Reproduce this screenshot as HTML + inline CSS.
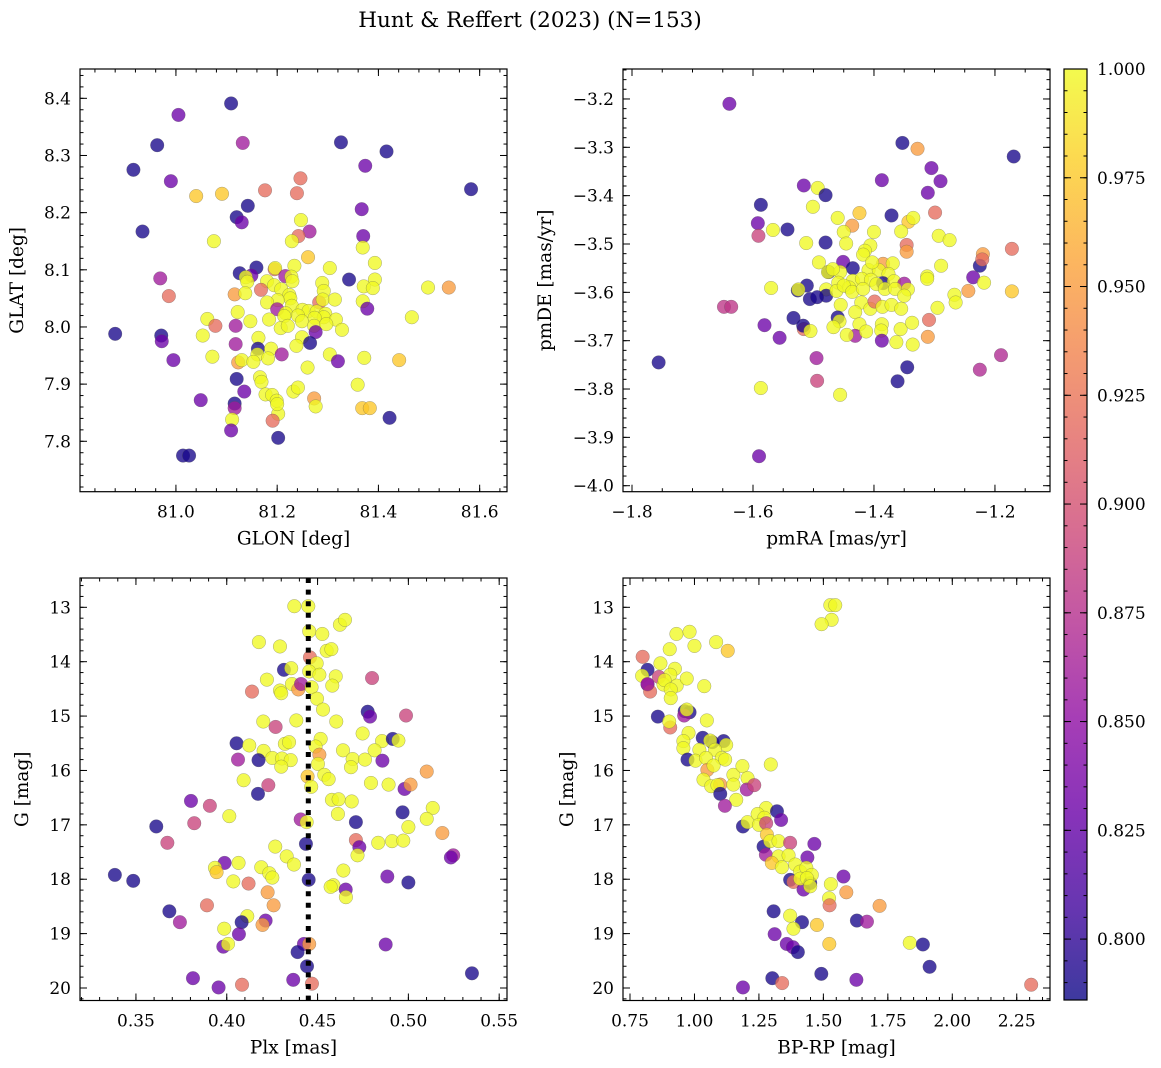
<!DOCTYPE html>
<html><head><meta charset="utf-8"><title>Hunt &amp; Reffert (2023)</title>
<style>
html,body{margin:0;padding:0;background:#fff;}
svg{display:block;font-family:"DejaVu Serif","Liberation Serif",serif;}
</style></head>
<body>
<svg id="fig" width="1161" height="1068" viewBox="0 0 1161 1068" xmlns="http://www.w3.org/2000/svg">
<defs>
<linearGradient id="plasma" x1="0" y1="1" x2="0" y2="0">
<stop offset="0" stop-color="#0d0887"/><stop offset="0.1" stop-color="#41049d"/><stop offset="0.2" stop-color="#6a00a8"/><stop offset="0.3" stop-color="#8f0da4"/><stop offset="0.4" stop-color="#b12a90"/><stop offset="0.5" stop-color="#cc4778"/><stop offset="0.6" stop-color="#e16462"/><stop offset="0.7" stop-color="#f2844b"/><stop offset="0.8" stop-color="#fca636"/><stop offset="0.9" stop-color="#fcce25"/><stop offset="1" stop-color="#f0f921"/>
</linearGradient>
</defs>
<text x="530" y="27" text-anchor="middle" font-size="21.5">Hunt &amp; Reffert (2023) (N=153)</text>
</svg>
<script>
// ---------- Panel 1: GLON vs GLAT ----------
const p1Glon = [81.109,81.005,81.132,80.963,81.326,81.416,80.916,81.374,80.990,81.246,
81.040,81.091,81.176,81.239,81.583,81.142,81.367,81.120,81.130,81.247,
80.934,81.264,81.370,81.242,81.075,81.229,81.369,81.261,81.393,81.159,
81.234,81.304,81.195,81.196,81.126,81.149,81.138,81.216,81.228,80.969,
81.342,81.393,81.141,81.180,81.230,81.289,81.194,81.371,81.389,81.498,
81.539,81.168,81.208,81.292,80.986,81.116,81.137,81.224,81.226,81.201,
81.283,81.290,81.314,81.180,81.369,81.378,81.229,81.200,81.250,81.262,
81.278,81.122,81.217,81.295,81.241,81.214,81.292,81.316,81.466,81.062,
81.184,81.147,81.249,81.274,81.078,81.118,81.207,81.221,81.273,81.297,
81.328,81.276,80.880,80.971,80.972,81.053,81.163,81.249,81.265,81.118,
81.162,81.238,81.188,81.209,81.161,81.072,81.304,81.372,80.995,81.123,
81.130,81.153,81.182,81.320,81.441,81.260,81.120,81.166,81.169,81.359,
81.135,81.232,81.241,81.177,81.190,81.199,81.273,81.276,81.049,81.116,
81.116,81.368,81.383,81.422,81.111,81.202,81.191,81.109,81.202,81.014,
81.026,81.200];
const p1Glat = [8.391,8.371,8.322,8.318,8.323,8.307,8.275,8.282,8.255,8.260,
8.229,8.233,8.239,8.234,8.241,8.212,8.206,8.192,8.183,8.187,
8.167,8.167,8.159,8.159,8.150,8.150,8.139,8.122,8.112,8.104,
8.107,8.103,8.101,8.103,8.094,8.090,8.087,8.089,8.088,8.085,
8.083,8.083,8.079,8.080,8.080,8.077,8.073,8.071,8.068,8.069,
8.069,8.065,8.066,8.063,8.054,8.057,8.059,8.056,8.050,8.047,
8.043,8.048,8.048,8.043,8.045,8.032,8.037,8.031,8.030,8.028,
8.027,8.026,8.024,8.023,8.020,8.019,8.017,8.013,8.017,8.014,
8.013,8.010,8.010,8.016,8.002,8.002,7.998,8.002,8.002,8.005,
7.995,7.991,7.988,7.985,7.975,7.985,7.981,7.982,7.972,7.970,
7.962,7.967,7.962,7.952,7.952,7.948,7.952,7.946,7.942,7.938,
7.942,7.939,7.945,7.940,7.942,7.929,7.909,7.912,7.904,7.899,
7.887,7.887,7.894,7.882,7.881,7.871,7.875,7.861,7.872,7.866,
7.858,7.858,7.858,7.841,7.838,7.848,7.836,7.819,7.806,7.775,
7.775,7.865];
const p1Prob = [.79,.83,.86,.79,.79,.79,.79,.83,.83,.92,
.975,.975,.92,.92,.79,.79,.83,.79,.83,1,
.79,.86,.83,.92,1,1,1,.975,1,.79,
1,1,.92,1,.79,.83,1,.86,1,.86,
.79,1,1,1,1,1,1,1,1,1,
.95,.92,1,1,.92,.95,1,1,1,1,
.92,1,1,1,1,.83,1,.86,1,1,
1,1,1,1,1,1,1,1,1,1,
1,1,1,1,.92,.86,1,1,1,1,
1,.83,.79,.79,.83,1,1,1,.79,.86,
.79,1,1,.86,1,1,1,1,.83,.95,
1,1,1,.83,.975,1,.79,1,1,1,
.83,1,1,1,1,1,.95,1,.83,.79,
.86,.975,.975,.79,1,1,.92,.83,.79,.79,
.79,1];
const p1XTicks = [81.0,81.2,81.4,81.6];
const p1YTicks = [7.8,7.9,8.0,8.1,8.2,8.3,8.4];

// ---------- Panel 2: pmRA vs pmDE ----------
const p2PmRA = [-1.639,-1.353,-1.328,-1.169,-1.305,-1.290,-1.387,-1.516,-1.493,-1.480,
-1.311,-1.587,-1.501,-1.424,-1.299,-1.460,-1.371,-1.343,-1.335,-1.592,
-1.567,-1.543,-1.436,-1.591,-1.450,-1.400,-1.355,-1.293,-1.275,-1.512,
-1.480,-1.446,-1.406,-1.346,-1.346,-1.172,-1.220,-1.225,-1.221,-1.415,
-1.418,-1.491,-1.451,-1.435,-1.409,-1.385,-1.369,-1.289,-1.475,-1.476,
-1.456,-1.392,-1.376,-1.312,-1.312,-1.236,-1.218,-1.435,-1.420,-1.405,
-1.385,-1.367,-1.350,-1.511,-1.459,-1.441,-1.526,-1.525,-1.570,-1.479,
-1.479,-1.506,-1.494,-1.462,-1.450,-1.436,-1.418,-1.396,-1.382,-1.365,
-1.344,-1.244,-1.172,-1.267,-1.265,-1.350,-1.421,-1.406,-1.399,-1.455,
-1.386,-1.371,-1.355,-1.295,-1.648,-1.636,-1.533,-1.516,-1.517,-1.460,
-1.457,-1.431,-1.424,-1.505,-1.467,-1.581,-1.556,-1.431,-1.445,-1.413,
-1.387,-1.388,-1.387,-1.356,-1.337,-1.363,-1.336,-1.309,-1.311,-1.495,
-1.756,-1.190,-1.225,-1.345,-1.361,-1.494,-1.587,-1.456,-1.590,-1.468,
-1.403];
const p2PmDE = [-3.210,-3.291,-3.303,-3.319,-3.343,-3.370,-3.368,-3.379,-3.384,-3.399,
-3.394,-3.419,-3.423,-3.436,-3.435,-3.446,-3.441,-3.454,-3.446,-3.457,
-3.471,-3.470,-3.462,-3.483,-3.475,-3.475,-3.474,-3.483,-3.492,-3.498,
-3.497,-3.499,-3.503,-3.502,-3.516,-3.510,-3.521,-3.545,-3.532,-3.514,
-3.522,-3.538,-3.537,-3.550,-3.554,-3.541,-3.540,-3.545,-3.558,-3.558,
-3.558,-3.554,-3.562,-3.567,-3.572,-3.569,-3.580,-3.576,-3.572,-3.574,
-3.581,-3.577,-3.582,-3.586,-3.580,-3.590,-3.596,-3.594,-3.591,-3.594,
-3.607,-3.614,-3.610,-3.597,-3.586,-3.599,-3.593,-3.583,-3.593,-3.593,
-3.594,-3.597,-3.598,-3.605,-3.621,-3.607,-3.621,-3.634,-3.619,-3.626,
-3.630,-3.626,-3.634,-3.632,-3.630,-3.630,-3.653,-3.676,-3.669,-3.652,
-3.660,-3.641,-3.666,-3.680,-3.672,-3.668,-3.694,-3.690,-3.688,-3.681,
-3.666,-3.679,-3.700,-3.676,-3.663,-3.703,-3.708,-3.657,-3.692,-3.736,
-3.745,-3.730,-3.760,-3.755,-3.784,-3.783,-3.798,-3.812,-3.939,-3.552,
-3.538];
const p2Prob = [.83,.79,.95,.79,.83,.83,.83,.83,1,.79,
.83,.79,1,.975,.92,1,.79,.975,1,.83,
1,.79,.95,.89,1,1,1,1,1,1,
.79,1,1,.92,.95,.92,.95,.79,.92,1,
1,1,.83,.79,1,.95,1,1,.79,1,
1,1,1,1,1,.83,1,1,1,1,
.79,1,.86,.79,1,1,.79,1,1,1,
.79,.79,.79,1,1,1,1,1,1,1,
1,.95,.975,1,1,1,1,1,.92,1,
1,1,1,1,.88,.88,.79,.92,.79,.79,
1,1,1,1,1,.83,.83,.86,1,1,
1,1,.83,1,1,1,1,.92,.95,.86,
.79,.87,.87,.79,.79,.89,1,1,.83,1,
1];
const p2XTicks = [-1.8,-1.6,-1.4,-1.2];
const p2YTicks = [-4.0,-3.9,-3.8,-3.7,-3.6,-3.5,-3.4,-3.3,-3.2];

// ---------- Panel 3: Plx vs G ----------
const p3Plx = [.4372,.4449,.4623,.4651,.4454,.4526,.4177,.4293,.4550,.4576,
.4458,.4495,.4315,.4355,.4454,.4510,.4600,.4800,.4221,.4139,
.4293,.4300,.4359,.4394,.4409,.4467,.4581,.4497,.4530,.4776,
.4789,.4987,.4201,.4269,.4383,.4603,.4748,.4054,.4124,.4320,
.4343,.4517,.4489,.4855,.4914,.4945,.4203,.4640,.4814,.4510,
.4062,.4175,.4251,.4304,.4352,.4300,.4502,.4693,.4761,.4857,
.4684,.5101,.4445,.4537,.4561,.4093,.4229,.4465,.4794,.4891,
.4979,.5012,.4172,.3803,.3907,.4579,.4616,.4688,.4612,.4968,
.5134,.5101,.4014,.4407,.4440,.4711,.3612,.3821,.5000,.5187,
.3673,.4711,.4730,.4436,.4267,.4720,.4834,.4910,.4972,.5247,
.5234,.4330,.4370,.3988,.4065,.3935,.3944,.4190,.4234,.4251,
.4642,.3384,.3485,.4451,.4036,.4120,.4884,.5000,.4587,.4572,
.4655,.4656,.4225,.4258,.3891,.3684,.3742,.4113,.4082,.4214,
.4197,.3986,.4067,.3981,.4007,.4425,.4454,.4390,.4875,.4442,
.5350,.3814,.4366,.3955,.4084,.4469];
const p3G = [12.98,12.98,13.32,13.23,13.44,13.49,13.64,13.72,13.80,13.77,
13.92,14.03,14.15,14.12,14.18,14.24,14.27,14.30,14.33,14.55,
14.53,14.58,14.41,14.51,14.41,14.47,14.44,14.68,14.88,14.92,
15.01,14.99,15.10,15.20,15.08,15.10,15.32,15.50,15.54,15.51,
15.48,15.42,15.56,15.46,15.42,15.45,15.64,15.63,15.63,15.71,
15.80,15.81,15.77,15.78,15.81,15.93,15.88,15.79,15.80,15.82,
15.94,16.02,16.11,16.08,16.16,16.18,16.27,16.30,16.23,16.26,
16.34,16.26,16.43,16.56,16.65,16.54,16.53,16.57,16.80,16.77,
16.69,16.89,16.84,16.90,16.95,16.95,17.03,16.97,17.04,17.15,
17.33,17.28,17.41,17.35,17.40,17.56,17.33,17.30,17.29,17.56,
17.60,17.58,17.73,17.70,17.70,17.79,17.87,17.78,17.89,17.97,
17.84,17.92,18.03,18.01,18.04,18.08,17.95,18.06,18.11,18.14,
18.19,18.33,18.24,18.48,18.48,18.59,18.79,18.68,18.79,18.76,
18.84,18.91,19.01,19.24,19.19,19.19,19.19,19.34,19.20,19.60,
19.73,19.82,19.85,19.99,19.94,19.92];
const p3Prob = [1,1,1,1,1,1,1,1,1,1,
.92,1,.79,1,1,1,1,.89,1,.92,
1,1,1,.95,.86,1,1,1,1,.79,
.83,.89,1,.89,1,1,1,.79,1,1,
1,1,1,1,.79,1,1,1,1,.95,
.86,.79,1,1,1,1,1,1,1,.83,
1,.95,.975,1,1,1,.89,1,1,1,
.83,.95,.79,.83,.89,1,1,1,1,.79,
1,1,1,.86,1,.79,.79,.89,1,.95,
.89,.92,.83,.79,1,1,1,1,1,.86,
.83,1,1,.83,1,1,.975,1,1,1,
1,.79,.79,.79,1,.92,.83,.79,1,1,
.83,1,.95,.95,.92,.79,.86,1,.79,.83,
.95,1,.83,.83,1,.83,.95,.79,.83,.79,
.79,.83,.83,.83,.92,.92];
const p3XTicks = [0.35,0.40,0.45,0.50,0.55];
const p3YTicks = [13,14,15,16,17,18,19,20];
const p3RefPlx = [0.4449];

// ---------- Panel 4: BP-RP vs G ----------
const p4Color = [1.527,1.546,1.532,1.493,0.930,0.981,1.000,1.084,1.129,0.904,
0.799,0.868,0.818,0.924,0.797,0.906,0.862,0.818,0.828,0.880,
0.931,0.970,1.038,0.884,0.908,0.908,0.962,0.981,0.960,0.970,
0.858,0.906,0.902,1.048,0.977,0.957,1.032,1.069,1.061,1.113,
1.123,0.957,1.019,1.080,1.106,0.973,1.004,1.045,1.050,1.074,
1.119,1.296,1.035,1.065,1.100,1.089,1.151,1.186,1.206,1.203,
1.232,1.100,1.151,1.162,1.118,1.188,1.206,1.278,1.245,1.271,
1.250,1.320,1.336,1.278,1.268,1.277,1.281,1.294,1.326,1.326,
1.300,1.339,1.371,1.465,1.438,1.365,1.391,1.371,1.384,1.410,
1.434,1.423,1.410,1.449,1.455,1.436,1.449,1.578,1.529,1.522,
1.524,1.589,1.718,1.307,1.371,1.417,1.384,1.475,1.630,1.669,
1.311,1.358,1.382,1.401,1.523,1.835,1.886,1.912,1.492,1.302,
1.340,1.628,1.188,2.306,0.818];
const p4G = [12.96,12.96,13.23,13.31,13.49,13.45,13.71,13.64,13.80,13.77,
13.91,14.03,14.15,14.13,14.26,14.24,14.28,14.42,14.55,14.42,
14.44,14.31,14.45,14.34,14.51,14.67,14.91,14.93,14.99,14.88,
15.01,15.21,15.10,15.08,15.31,15.46,15.40,15.48,15.45,15.46,
15.53,15.59,15.62,15.62,15.77,15.80,15.82,15.77,15.99,15.91,
15.80,15.89,16.17,16.29,16.26,16.27,16.08,15.92,16.14,16.35,
16.27,16.43,16.26,16.54,16.65,17.03,16.95,16.69,16.80,16.87,
17.00,16.75,16.91,16.97,17.40,17.55,17.18,17.30,17.30,17.58,
17.70,17.78,17.33,17.35,17.60,17.56,17.73,18.01,18.05,17.86,
17.79,18.19,17.99,18.07,17.92,17.98,18.13,17.95,18.09,18.35,
18.48,18.24,18.49,18.59,18.67,18.79,18.91,18.84,18.76,18.78,
19.01,19.19,19.25,19.34,19.19,19.17,19.20,19.61,19.74,19.82,
19.91,19.85,19.99,19.94,14.41];
const p4Prob = [1,1,1,1,1,1,1,1,.975,1,
.92,1,.79,1,1,1,.89,.83,.92,1,
1,1,1,1,1,1,.79,.79,.86,1,
.79,.92,1,1,1,1,.79,.79,1,.79,
1,1,1,1,1,.79,1,1,.95,1,
1,1,1,1,.95,1,1,1,1,.86,
.89,.79,1,1,.86,.79,1,1,1,1,
1,.79,.83,.89,.79,.86,.975,1,1,1,
.975,1,.89,.83,.83,1,1,.79,.92,1,
1,.83,1,.79,1,1,1,.83,1,1,
.92,.95,.95,.79,1,.79,1,.975,.79,.86,
.83,.83,.83,.79,.975,1,.79,.79,.79,.79,
.92,.83,.83,.92,.86];
const p4XTicks = [0.75,1.00,1.25,1.50,1.75,2.00,2.25];
const p4YTicks = [13,14,15,16,17,18,19,20];

// ---------- Colorbar ----------
const cbTicks = [0.800,0.825,0.850,0.875,0.900,0.925,0.950,0.975,1.000];
const cbRange = [0.786, 1.0];

const NS = "http://www.w3.org/2000/svg";
const svg = document.getElementById('fig');
const plasma = ["#0d0887","#41049d","#6a00a8","#8f0da4","#b12a90","#cc4778","#e16462","#f2844b","#fca636","#fcce25","#f0f921"];
function hex(c){return [parseInt(c.slice(1,3),16),parseInt(c.slice(3,5),16),parseInt(c.slice(5,7),16)];}
function cmap(v){
  let t=(v-cbRange[0])/(cbRange[1]-cbRange[0]); t=Math.max(0,Math.min(1,t));
  const f=t*10, i=Math.min(9,Math.floor(f)), r=f-i;
  const a=hex(plasma[i]), b=hex(plasma[i+1]);
  return 'rgb('+a.map((x,k)=>Math.round(x+(b[k]-x)*r)).join(',')+')';
}
function mk(tag, attrs, parent){
  const e=document.createElementNS(NS,tag);
  for(const k in attrs) e.setAttribute(k,attrs[k]);
  (parent||svg).appendChild(e); return e;
}
function fmt(v,d){ const s=v.toFixed(d); return s.replace('-','\u2212'); }
const TICKFS=17, LABFS=18.5;

function panel(cfg){
  const g=mk('g',{});
  
  
  const sx=v=>cfg.L+(v-cfg.x0)/(cfg.x1-cfg.x0)*(cfg.R-cfg.L);
  const sy=v=>cfg.B+(v-cfg.y0)/(cfg.y1-cfg.y0)*(cfg.T-cfg.B);
  const n=Math.min(cfg.xs.length,cfg.ys.length,cfg.ps.length);
  for(let i=0;i<n;i++){
    const c=mk('circle',{cx:sx(cfg.xs[i]).toFixed(2),cy:sy(cfg.ys[i]).toFixed(2),r:6.8,fill:cmap(cfg.ps[i]),'fill-opacity':0.78,stroke:'#555','stroke-opacity':0.5,'stroke-width':0.5},g);
    
    
  }
  if(cfg.ref){
    for(const v of cfg.ref){
      const l=mk('line',{x1:sx(v),x2:sx(v),y1:cfg.T,y2:cfg.B,stroke:'#000','stroke-width':5,'stroke-dasharray':'5 6.6'},g);
      
      
    }
  }
  const fr=mk('rect',{x:cfg.L,y:cfg.T,width:cfg.R-cfg.L,height:cfg.B-cfg.T,fill:'none',stroke:'#000','stroke-width':1.2},g);
  
  
  const tk=(x1,y1,x2,y2,w)=>mk('line',{x1,y1,x2,y2,stroke:'#000','stroke-width':w||1},g);
  let start=Math.ceil(cfg.x0/cfg.xm-1e-6);
  for(let k=start;k*cfg.xm<=cfg.x1;k++){const x=sx(k*cfg.xm);tk(x,cfg.B,x,cfg.B-3.5);tk(x,cfg.T,x,cfg.T+3.5);}
  start=Math.ceil(Math.min(cfg.y0,cfg.y1)/cfg.ym-1e-6);
  for(let k=start;k*cfg.ym<=Math.max(cfg.y0,cfg.y1);k++){const y=sy(k*cfg.ym);tk(cfg.L,y,cfg.L+3.5,y);tk(cfg.R,y,cfg.R-3.5,y);}
  cfg.xt.forEach(v=>{const x=sx(v); if(x<cfg.L-0.5||x>cfg.R+0.5) return; tk(x,cfg.B,x,cfg.B-7);tk(x,cfg.T,x,cfg.T+7);
    const t=mk('text',{x:x,y:cfg.B+26,'text-anchor':'middle','font-size':TICKFS},g); t.textContent=fmt(v,cfg.xd);
    
    });
  cfg.yt.forEach(v=>{const y=sy(v); tk(cfg.L,y,cfg.L+7,y);tk(cfg.R,y,cfg.R-7,y);
    const t=mk('text',{x:cfg.L-9,y:y+6,'text-anchor':'end','font-size':TICKFS},g); t.textContent=fmt(v,cfg.yd);
    
    });
  const xl=mk('text',{x:(cfg.L+cfg.R)/2,y:cfg.B+53,'text-anchor':'middle','font-size':LABFS},g); xl.textContent=cfg.xlab;
  
  
  const yx=cfg.ylx, yy=(cfg.T+cfg.B)/2;
  const yl=mk('text',{x:yx,y:yy,'text-anchor':'middle','font-size':LABFS,transform:'rotate(-90 '+yx+' '+yy+')'},g); yl.textContent=cfg.ylab;
  
  
}

panel({name:'glon-glat-panel',L:80,R:507,T:69,B:491.7,x0:80.8105,x1:81.654,y0:7.7118,y1:8.4513,
  xs:p1Glon,ys:p1Glat,ps:p1Prob,xt:p1XTicks,yt:p1YTicks,xd:1,yd:1,xm:0.04,ym:0.02,xlab:'GLON [deg]',ylab:'GLAT [deg]',ylx:23});
panel({name:'proper-motion-panel',L:623,R:1050,T:69,B:491.7,x0:-1.8149,x1:-1.109,y0:-4.0124,y1:-3.138,
  xs:p2PmRA,ys:p2PmDE,ps:p2Prob,xt:p2XTicks,yt:p2YTicks,xd:1,yd:1,xm:0.05,ym:0.02,xlab:'pmRA [mas/yr]',ylab:'pmDE [mas/yr]',ylx:551});
panel({name:'parallax-magnitude-panel',L:80,R:507,T:578,B:1000.5,x0:0.3192,x1:0.5543,y0:20.23,y1:12.461,
  xs:p3Plx,ys:p3G,ps:p3Prob,xt:p3XTicks,yt:p3YTicks,xd:2,yd:0,xm:0.01,ym:0.2,xlab:'Plx [mas]',ylab:'G [mag]',ylx:28,ref:p3RefPlx});
panel({name:'color-magnitude-panel',L:623,R:1050,T:578,B:1000.5,x0:0.7228,x1:2.379,y0:20.23,y1:12.461,
  xs:p4Color,ys:p4G,ps:p4Prob,xt:p4XTicks,yt:p4YTicks,xd:2,yd:0,xm:0.05,ym:0.2,xlab:'BP-RP [mag]',ylab:'G [mag]',ylx:573});

(function(){
  const L=1064,R=1087,T=69,B=1000;
  const g=mk('g',{});
  
  
  mk('rect',{x:L,y:T,width:R-L,height:B-T,fill:'url(#plasma)','fill-opacity':0.8},g);
  mk('rect',{x:L,y:T,width:R-L,height:B-T,fill:'none',stroke:'#000','stroke-width':1.2},g);
  const sy=v=>B+(v-cbRange[0])/(cbRange[1]-cbRange[0])*(T-B);
  for(let k=Math.ceil(cbRange[0]/0.005-1e-6);k*0.005<=cbRange[1]+1e-9;k++){const y=sy(k*0.005);
    mk('line',{x1:R,x2:R-3.5,y1:y,y2:y,stroke:'#000'},g);mk('line',{x1:L,x2:L+3.5,y1:y,y2:y,stroke:'#000'},g);}
  cbTicks.forEach(v=>{const y=sy(v);
    mk('line',{x1:R,x2:R-7,y1:y,y2:y,stroke:'#000'},g);mk('line',{x1:L,x2:L+7,y1:y,y2:y,stroke:'#000'},g);
    const t=mk('text',{x:R+10,y:y+6,'font-size':TICKFS},g); t.textContent=v.toFixed(3);
    
    });
})();
</script>
</body></html>
